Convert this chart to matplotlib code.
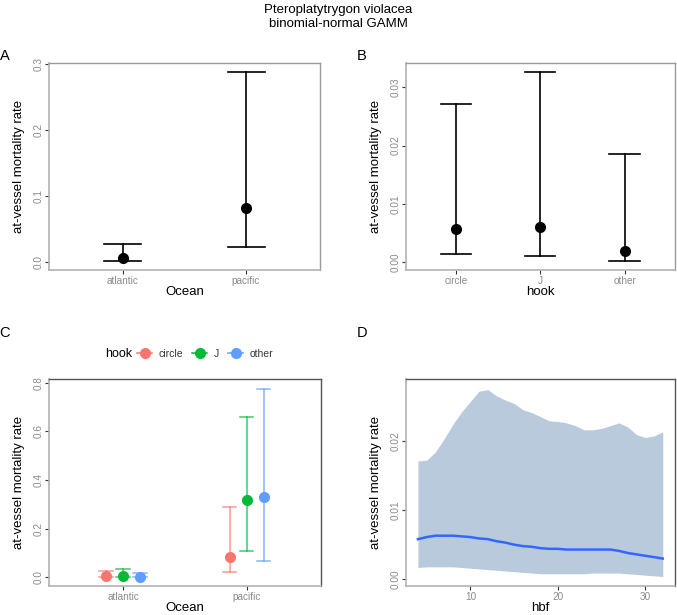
import numpy as np
import matplotlib
matplotlib.use("Agg")
from matplotlib import pyplot as plt
from matplotlib.lines import Line2D

plt.rcParams['font.family'] = ['Liberation Sans', 'DejaVu Sans']

# panel A: ocean
ocean = ["atlantic", "pacific"]
ocean_fit = [0.0052, 0.082]
ocean_lo = [0.001, 0.022]
ocean_hi = [0.0274, 0.288]

# panel B: hook
hook = ["circle", "J", "other"]
hook_fit = [0.00563, 0.00597, 0.00179]
hook_lo = [0.00127, 0.00098, 0.00012]
hook_hi = [0.0271, 0.03265, 0.01854]

# panel C: ocean x hook
inter_fit = {"circle": [0.005, 0.082], "J": [0.006, 0.319], "other": [0.002, 0.329]}
inter_lo = {"circle": [0.001, 0.022], "J": [0.001, 0.109], "other": [0.0, 0.068]}
inter_hi = {"circle": [0.027, 0.288], "J": [0.033, 0.659], "other": [0.019, 0.773]}
hook_colors = {"circle": "#F8766D", "J": "#00BA38", "other": "#619CFF"}

# panel D: hbf smooth
hbf = [4, 5, 6, 7, 8, 9, 10, 11, 12, 13, 14, 15, 16, 17, 18, 19, 20, 21, 22, 23,
       24, 25, 26, 27, 28, 29, 30, 31, 32]
hbf_fit = [0.0058, 0.0061, 0.0063, 0.0063, 0.0063, 0.0062, 0.0061, 0.0059, 0.0058,
           0.0055, 0.0053, 0.0050, 0.0048, 0.0047, 0.0045, 0.0044, 0.0044, 0.0043,
           0.0043, 0.0043, 0.0043, 0.0043, 0.0043, 0.0041, 0.0038, 0.0036, 0.0034,
           0.0032, 0.0030]
hbf_lo = [0.0017, 0.0018, 0.0018, 0.0018, 0.0018, 0.0017, 0.0016, 0.0015, 0.0014,
          0.0013, 0.0012, 0.0011, 0.0010, 0.0009, 0.0008, 0.0008, 0.0008, 0.0008,
          0.0008, 0.0008, 0.0009, 0.0009, 0.0009, 0.0009, 0.0008, 0.0007, 0.0006,
          0.0005, 0.0004]
hbf_hi = [0.0171, 0.0172, 0.0184, 0.0203, 0.0224, 0.0242, 0.0257, 0.0272, 0.0274,
          0.0265, 0.0259, 0.0254, 0.0245, 0.0241, 0.0235, 0.0229, 0.0228, 0.0226,
          0.0222, 0.0216, 0.0216, 0.0218, 0.0222, 0.0226, 0.0220, 0.0209, 0.0205,
          0.0207, 0.0213]

TICK_COLOR = "#8a8a8a"
LABEL_SIZE = 9.5


def style_axes(ax, frame_color):
    for side in ["left", "bottom"]:
        ax.spines[side].set_color("#b3b3b3")
        ax.spines[side].set_linewidth(1.2)
    for side in ["top", "right"]:
        ax.spines[side].set_color(frame_color)
        ax.spines[side].set_linewidth(1.0)
    ax.tick_params(axis="both", colors="#333333", labelcolor=TICK_COLOR, labelsize=7.2,
                   length=3, width=0.8, pad=1)
    for lab in ax.get_yticklabels():
        lab.set_rotation(90)
        lab.set_va("center")
    ax.set_ylabel("at-vessel mortality rate", fontsize=LABEL_SIZE, labelpad=6)


def cat_errorbars(ax, xs, fit, lo, hi, color, cap, lw, msize, alpha=1.0):
    for x, f, l, h in zip(xs, fit, lo, hi):
        ax.plot([x, x], [l, h], color=color, lw=lw, alpha=alpha, zorder=2)
        ax.plot([x - cap, x + cap], [l, l], color=color, lw=lw, alpha=alpha, zorder=2)
        ax.plot([x - cap, x + cap], [h, h], color=color, lw=lw, alpha=alpha, zorder=2)
    ax.plot(xs, fit, "o", color=color, ms=msize, zorder=3, markeredgewidth=0)


fig = plt.figure(figsize=(6.77, 6.15), dpi=100)
W, H = 677.0, 615.0


def add_axes(x0, x1, y0, y1):
    return fig.add_axes([x0 / W, 1 - y1 / H, (x1 - x0) / W, (y1 - y0) / H])


fig.text(0.5, 1 - 10 / H, "Pteroplatytrygon violacea", ha="center", va="center", fontsize=9.5)
fig.text(0.5, 1 - 24 / H, "binomial-normal GAMM", ha="center", va="center", fontsize=9.5)

# A
axA = add_axes(49, 320, 63, 270)
xa = np.arange(1, len(ocean) + 1)
cat_errorbars(axA, xa, ocean_fit, ocean_lo, ocean_hi, "black", 0.15, 1.2, 8)
axA.set_xlim(0.4, len(ocean) + 0.6)
axA.set_ylim(-0.0126, 0.302)
axA.set_xticks(xa)
axA.set_xticklabels(ocean)
axA.set_yticks([0.0, 0.1, 0.2, 0.3])
axA.set_yticklabels(["0.0", "0.1", "0.2", "0.3"])
axA.set_xlabel("Ocean", fontsize=LABEL_SIZE, labelpad=0)
style_axes(axA, "#999999")

# B
axB = add_axes(405.7, 675, 63, 270)
xb = np.arange(1, len(hook) + 1)
cat_errorbars(axB, xb, hook_fit, hook_lo, hook_hi, "black", 0.18, 1.2, 8)
axB.set_xlim(0.4, len(hook) + 0.6)
axB.set_ylim(-0.0014, 0.0342)
axB.set_xticks(xb)
axB.set_xticklabels(hook)
axB.set_yticks([0.0, 0.01, 0.02, 0.03])
axB.set_yticklabels(["0.00", "0.01", "0.02", "0.03"])
axB.set_xlabel("hook", fontsize=LABEL_SIZE, labelpad=0)
style_axes(axB, "#999999")

# C
axC = add_axes(49, 320.7, 379.3, 586)
offsets = {"circle": -0.138, "J": 0.0, "other": 0.138}
for h in hook:
    cat_errorbars(axC, xa + offsets[h], inter_fit[h], inter_lo[h], inter_hi[h],
                  hook_colors[h], 0.055, 1.1, 8, alpha=0.75)
axC.set_xlim(0.4, len(ocean) + 0.6)
axC.set_ylim(-0.036, 0.814)
axC.set_xticks(xa)
axC.set_xticklabels(ocean)
axC.set_yticks([0.0, 0.2, 0.4, 0.6, 0.8])
axC.set_yticklabels(["0.0", "0.2", "0.4", "0.6", "0.8"])
axC.set_xlabel("Ocean", fontsize=LABEL_SIZE, labelpad=0)
style_axes(axC, "#555555")

handles = [Line2D([0], [0], color=hook_colors[h], marker="o", ms=8, lw=1.1,
                  markeredgewidth=0) for h in hook]
leg = fig.legend(handles, hook, ncol=3, frameon=False, fontsize=7.5,
                 loc="center left", bbox_to_anchor=(137 / W, 1 - 354 / H),
                 handlelength=1.45, handletextpad=0.6, columnspacing=0.9,
                 borderpad=0, borderaxespad=0)
for t in leg.get_texts():
    t.set_color("#333333")
fig.text(105 / W, 1 - 354 / H, "hook", ha="left", va="center", fontsize=9)

# D
axD = add_axes(405.7, 675, 379.3, 586)
axD.fill_between(hbf, hbf_lo, hbf_hi, color="#b8cadc", linewidth=0, zorder=1)
axD.plot(hbf, hbf_fit, color="#3366ff", lw=1.8, zorder=2)
axD.set_xlim(2.6, 33.4)
axD.set_ylim(-0.00097, 0.0289)
axD.set_xticks([10, 20, 30])
axD.set_yticks([0.0, 0.01, 0.02])
axD.set_yticklabels(["0.00", "0.01", "0.02"])
axD.set_xlabel("hbf", fontsize=LABEL_SIZE, labelpad=0)
style_axes(axD, "#555555")

# panel tags
for tag, x, y in [("A", 5, 56), ("B", 362, 56), ("C", 5, 333), ("D", 362, 333)]:
    fig.text(x / W, 1 - y / H, tag, ha="center", va="center", fontsize=10.5)

fig.savefig("out.png", dpi=100)
